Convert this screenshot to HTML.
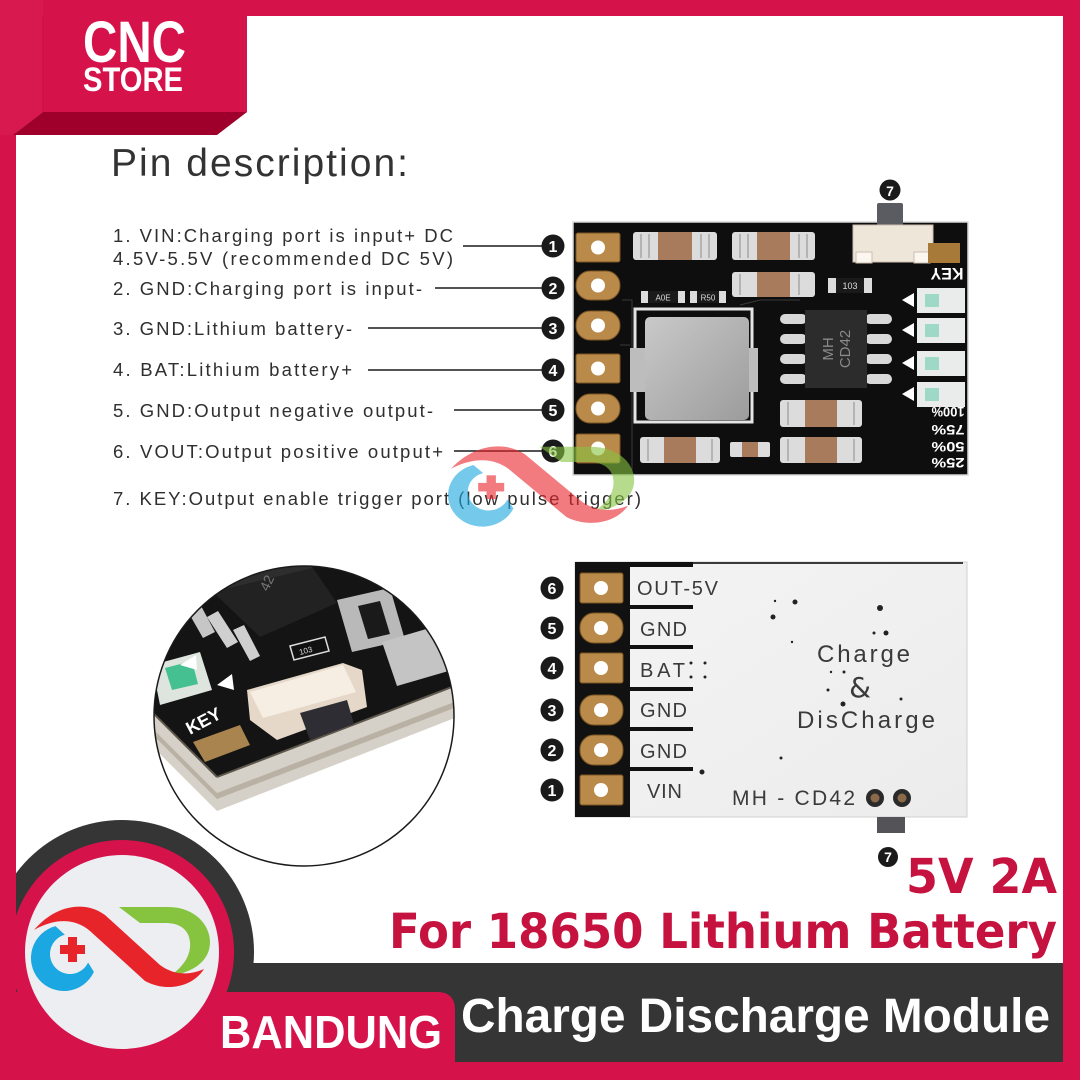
<!DOCTYPE html>
<html><head><meta charset="utf-8"><style>
html,body{margin:0;padding:0;background:#fff}
svg{display:block}
text{font-family:"Liberation Sans",Arial,sans-serif}
</style></head><body>
<svg width="1080" height="1080" viewBox="0 0 1080 1080" xmlns="http://www.w3.org/2000/svg">
<defs>
 <clipPath id="mag"><circle cx="304" cy="716" r="150"/></clipPath>
 <linearGradient id="ind" x1="0" y1="0" x2="1" y2="1"><stop offset="0" stop-color="#c9c9c9"/><stop offset="1" stop-color="#9c9c9c"/></linearGradient>
 <linearGradient id="brd" x1="0" y1="0" x2="1" y2="1"><stop offset="0" stop-color="#f4f4f4"/><stop offset="1" stop-color="#ececec"/></linearGradient>
 <g id="logo">
  <path d="M93.9 971.9 A33 33 0 1 1 55.5 926.1 L64.8 934.7 A20 20 0 1 0 88.1 962.5 Z" fill="#1ba7e1"/>
  <path d="M119 907 L168 907 C195 907 210 925 210 942 C210 960 195 972 170 976 C186 965 191 953 190 942 C189 930 180 923 166 923 L140 923 Z" fill="#86c440"/>
  <path d="M34 930 C55 905 85 900 105 915 L160 965 C175 976 190 975 204 969 C192 988 165 992 145 981 L90 931 C75 918 55 918 34 930Z" fill="#e8242b"/>
  <rect x="60" y="945" width="25" height="9" fill="#e8242b"/>
  <rect x="68" y="937" width="9" height="25" fill="#e8242b"/>
 </g>
</defs>
<rect width="1080" height="1080" fill="#fff"/>

<!-- bottom banner shapes -->
<circle cx="122" cy="952" r="132" fill="#353535"/>
<rect x="122" y="963" width="941" height="100" fill="#353535"/>
<circle cx="122" cy="952" r="112" fill="#d6124b"/>
<path d="M0 992 H437 Q455 992 455 1010 V1080 H0Z" fill="#d6124b"/>
<circle cx="122" cy="952" r="97" fill="#eceef2"/>
<use href="#logo"/>

<!-- frame -->
<rect x="0" y="0" width="1080" height="16" fill="#d6124b"/>
<rect x="0" y="0" width="16" height="1080" fill="#d6124b"/>
<rect x="1063" y="0" width="17" height="1080" fill="#d6124b"/>
<rect x="0" y="1062" width="1080" height="18" fill="#d6124b"/>
<polygon points="0,0 247,0 247,112 43,112 13,135 0,135" fill="#d6124b"/>
<polygon points="0,0 43,0 43,112 13,135 0,135" fill="#d81950"/>
<line x1="43" y1="16" x2="43" y2="112" stroke="#c80e44" stroke-width="1"/>
<polygon points="43,112 247,112 217,135 13,135" fill="#9f002b"/>
<text x="83" y="62" font-size="58" font-weight="bold" fill="#fff" textLength="103" lengthAdjust="spacingAndGlyphs">CNC</text>
<text x="83" y="91" font-size="34" font-weight="bold" fill="#fff" textLength="100" lengthAdjust="spacingAndGlyphs">STORE</text>

<!-- Pin description -->
<text x="111" y="176" font-size="39" fill="#333" textLength="297" lengthAdjust="spacing">Pin description:</text>
<g font-size="18.5" fill="#2f2f2f">
 <text x="113" y="242" textLength="340" lengthAdjust="spacing">1. VIN:Charging port is input+ DC</text>
 <text x="113" y="265" textLength="340" lengthAdjust="spacing">4.5V-5.5V (recommended DC 5V)</text>
 <text x="113" y="295" textLength="309" lengthAdjust="spacing">2. GND:Charging port is input-</text>
 <text x="113" y="335" textLength="239" lengthAdjust="spacing">3. GND:Lithium battery-</text>
 <text x="113" y="376" textLength="239" lengthAdjust="spacing">4. BAT:Lithium battery+</text>
 <text x="113" y="417" textLength="320" lengthAdjust="spacing">5. GND:Output negative output-</text>
 <text x="113" y="458" textLength="330" lengthAdjust="spacing">6. VOUT:Output positive output+</text>
 <text x="113" y="505" textLength="528" lengthAdjust="spacing">7. KEY:Output enable trigger port (low pulse trigger)</text>
</g>
<g stroke="#1a1a1a" stroke-width="1.6">
 <line x1="463" y1="246" x2="545" y2="246"/>
 <line x1="435" y1="288" x2="545" y2="288"/>
 <line x1="368" y1="328" x2="545" y2="328"/>
 <line x1="368" y1="370" x2="545" y2="370"/>
 <line x1="454" y1="410" x2="545" y2="410"/>
 <line x1="454" y1="451" x2="545" y2="451"/>
</g>
<g font-size="16" font-weight="bold" fill="#fff" text-anchor="middle">
 <circle cx="553" cy="246" r="11.5" fill="#1a1a1a"/><text x="553" y="252">1</text>
 <circle cx="553" cy="288" r="11.5" fill="#1a1a1a"/><text x="553" y="294">2</text>
 <circle cx="553" cy="328" r="11.5" fill="#1a1a1a"/><text x="553" y="334">3</text>
 <circle cx="553" cy="370" r="11.5" fill="#1a1a1a"/><text x="553" y="376">4</text>
 <circle cx="553" cy="410" r="11.5" fill="#1a1a1a"/><text x="553" y="416">5</text>
 <circle cx="553" cy="451" r="11.5" fill="#1a1a1a"/><text x="553" y="457">6</text>
 <circle cx="890" cy="190" r="10.5" fill="#1a1a1a"/><text x="890" y="196" font-size="14">7</text>
</g>

<!-- TOP PCB -->
<rect x="573" y="222" width="395" height="253" fill="#0e0e0e" stroke="#d8d8d8" stroke-width="1.5"/>
<g fill="#b98a4a" stroke="#7d5524" stroke-width="1">
 <rect x="576" y="233" width="44" height="29" rx="2"/>
 <rect x="576" y="271" width="44" height="29" rx="14"/>
 <rect x="576" y="311" width="44" height="29" rx="14"/>
 <rect x="576" y="354" width="44" height="29" rx="2"/>
 <rect x="576" y="394" width="44" height="29" rx="14"/>
 <rect x="576" y="434" width="44" height="29" rx="2"/>
</g>
<g fill="#fff">
 <circle cx="598" cy="247.5" r="7"/><circle cx="598" cy="285.5" r="7"/><circle cx="598" cy="325.5" r="7"/>
 <circle cx="598" cy="368.5" r="7"/><circle cx="598" cy="408.5" r="7"/><circle cx="598" cy="448.5" r="7"/>
</g>
<g stroke="#3a3a3a" stroke-width="1" fill="none">
 <path d="M622 300 H632 V470"/><path d="M740 305 L760 300 H800"/><path d="M620 345 H630"/>
</g>
<!-- capacitors -->
<g>
 <rect x="633" y="232" width="84" height="28" rx="3" fill="#dcdcdc"/><rect x="658" y="232" width="34" height="28" fill="#a87b5c"/>
 <rect x="732" y="232" width="83" height="28" rx="3" fill="#dcdcdc"/><rect x="757" y="232" width="33" height="28" fill="#a87b5c"/>
 <rect x="732" y="272" width="83" height="25" rx="3" fill="#dcdcdc"/><rect x="757" y="272" width="33" height="25" fill="#a87b5c"/>
 <rect x="640" y="437" width="80" height="26" rx="3" fill="#dcdcdc"/><rect x="664" y="437" width="32" height="26" fill="#a87b5c"/>
 <rect x="780" y="400" width="82" height="27" rx="3" fill="#dcdcdc"/><rect x="805" y="400" width="32" height="27" fill="#a87b5c"/>
 <rect x="780" y="437" width="82" height="26" rx="3" fill="#dcdcdc"/><rect x="805" y="437" width="32" height="26" fill="#a87b5c"/>
 <rect x="730" y="442" width="40" height="15" rx="2" fill="#dcdcdc"/><rect x="742" y="442" width="16" height="15" fill="#a87b5c"/>
</g>
<g stroke="#9a9a9a" stroke-width="1.2">
 <line x1="641" y1="234" x2="641" y2="258"/><line x1="649" y1="234" x2="649" y2="258"/><line x1="701" y1="234" x2="701" y2="258"/><line x1="709" y1="234" x2="709" y2="258"/>
 <line x1="740" y1="234" x2="740" y2="258"/><line x1="748" y1="234" x2="748" y2="258"/><line x1="799" y1="234" x2="799" y2="258"/><line x1="807" y1="234" x2="807" y2="258"/>
 <line x1="740" y1="274" x2="740" y2="295"/><line x1="799" y1="274" x2="799" y2="295"/>
 <line x1="648" y1="439" x2="648" y2="461"/><line x1="712" y1="439" x2="712" y2="461"/>
 <line x1="788" y1="402" x2="788" y2="425"/><line x1="854" y1="402" x2="854" y2="425"/>
 <line x1="788" y1="439" x2="788" y2="461"/><line x1="854" y1="439" x2="854" y2="461"/>
</g>
<!-- small resistors -->
<rect x="641" y="291" width="44" height="12" fill="#dcdcdc"/><rect x="648" y="291" width="30" height="12" fill="#1a1a1a"/>
<text x="663" y="300.5" font-size="8" fill="#ddd" text-anchor="middle">A0E</text>
<rect x="690" y="291" width="36" height="12" fill="#dcdcdc"/><rect x="697" y="291" width="22" height="12" fill="#1a1a1a"/>
<text x="708" y="300.5" font-size="8" fill="#ddd" text-anchor="middle">R50</text>
<rect x="828" y="278" width="44" height="15" fill="#dcdcdc"/><rect x="836" y="278" width="28" height="15" fill="#1a1a1a"/>
<text x="850" y="289" font-size="9" fill="#ddd" text-anchor="middle">103</text>
<!-- inductor -->
<rect x="635" y="309" width="117" height="113" fill="none" stroke="#e4e4e4" stroke-width="3"/>
<rect x="630" y="348" width="15" height="44" fill="#bdbdbd"/>
<rect x="748" y="348" width="10" height="44" fill="#bdbdbd"/>
<rect x="645" y="317" width="104" height="103" rx="5" fill="url(#ind)"/>
<!-- IC -->
<g fill="#d8d8d8">
 <rect x="780" y="314" width="27" height="10" rx="5"/><rect x="780" y="334" width="27" height="10" rx="5"/><rect x="780" y="354" width="27" height="10" rx="5"/><rect x="780" y="374" width="27" height="10" rx="5"/>
 <rect x="865" y="314" width="27" height="10" rx="5"/><rect x="865" y="334" width="27" height="10" rx="5"/><rect x="865" y="354" width="27" height="10" rx="5"/><rect x="865" y="374" width="27" height="10" rx="5"/>
</g>
<rect x="805" y="310" width="62" height="78" fill="#2c2c2c"/>
<g transform="translate(836,349) rotate(-90)" fill="#8a8a8a" font-size="15" text-anchor="middle">
 <text x="0" y="-3">MH</text><text x="0" y="14">CD42</text>
</g>
<!-- switch -->
<rect x="877" y="203" width="26" height="23" rx="2" fill="#5b5b62"/>
<rect x="853" y="225" width="80" height="37" fill="#efe6da" stroke="#cbbfb0"/>
<rect x="856" y="252" width="16" height="11" fill="#fbf6f0" stroke="#cbbfb0"/>
<rect x="914" y="252" width="16" height="11" fill="#fbf6f0" stroke="#cbbfb0"/>
<rect x="928" y="243" width="32" height="20" fill="#a87a3a"/>
<g transform="translate(947,274) rotate(180)"><text x="0" y="6" font-size="17" font-weight="bold" fill="#fff" text-anchor="middle" textLength="33" lengthAdjust="spacingAndGlyphs">KEY</text></g>
<!-- LEDs -->
<g fill="#e9ecea">
 <rect x="917" y="288" width="48" height="25"/><rect x="917" y="318" width="48" height="25"/><rect x="917" y="351" width="48" height="25"/><rect x="917" y="382" width="48" height="25"/>
</g>
<g fill="#9ed8c6">
 <rect x="925" y="294" width="14" height="13"/><rect x="925" y="324" width="14" height="13"/><rect x="925" y="357" width="14" height="13"/><rect x="925" y="388" width="14" height="13"/>
</g>
<g fill="#fff">
 <polygon points="902,300 914,293 914,307"/><polygon points="902,330 914,323 914,337"/><polygon points="902,363 914,356 914,370"/><polygon points="902,394 914,387 914,401"/>
</g>
<g font-size="14" font-weight="bold" fill="#fff" text-anchor="middle">
 <g transform="translate(948,412) rotate(180)"><text x="0" y="5" textLength="33" lengthAdjust="spacingAndGlyphs">100%</text></g>
 <g transform="translate(948,430) rotate(180)"><text x="0" y="5" textLength="33" lengthAdjust="spacingAndGlyphs">75%</text></g>
 <g transform="translate(948,447) rotate(180)"><text x="0" y="5" textLength="33" lengthAdjust="spacingAndGlyphs">50%</text></g>
 <g transform="translate(948,463) rotate(180)"><text x="0" y="5" textLength="33" lengthAdjust="spacingAndGlyphs">25%</text></g>
</g>

<!-- BOTTOM PCB -->
<rect x="575" y="562" width="392" height="255" fill="url(#brd)" stroke="#d0d0d0" stroke-width="1"/>
<rect x="580" y="562" width="383" height="2" fill="#3a3a3a"/>
<rect x="575" y="562" width="55" height="255" fill="#111"/>
<rect x="575" y="562" width="118" height="5" fill="#111"/>
<g fill="#111">
 <rect x="630" y="605" width="63" height="4"/><rect x="630" y="645" width="63" height="4"/><rect x="630" y="687" width="63" height="4"/>
 <rect x="630" y="727" width="63" height="4"/><rect x="630" y="767" width="63" height="4"/>
</g>
<g fill="#b98a4a" stroke="#7d5524" stroke-width="1">
 <rect x="580" y="573" width="43" height="30" rx="2"/>
 <rect x="580" y="613" width="43" height="30" rx="14"/>
 <rect x="580" y="653" width="43" height="30" rx="2"/>
 <rect x="580" y="695" width="43" height="30" rx="14"/>
 <rect x="580" y="735" width="43" height="30" rx="14"/>
 <rect x="580" y="775" width="43" height="30" rx="2"/>
</g>
<g fill="#fff">
 <circle cx="601" cy="588" r="7"/><circle cx="601" cy="628" r="7"/><circle cx="601" cy="668" r="7"/>
 <circle cx="601" cy="710" r="7"/><circle cx="601" cy="750" r="7"/><circle cx="601" cy="790" r="7"/>
</g>
<g font-size="20" fill="#3a3a3a">
 <text x="637" y="595" textLength="81" lengthAdjust="spacing">OUT-5V</text>
 <text x="640" y="636" textLength="47" lengthAdjust="spacing">GND</text>
 <text x="640" y="677" textLength="45" lengthAdjust="spacing">BAT</text>
 <text x="640" y="717" textLength="47" lengthAdjust="spacing">GND</text>
 <text x="640" y="758" textLength="47" lengthAdjust="spacing">GND</text>
 <text x="647" y="798" textLength="35" lengthAdjust="spacing">VIN</text>
 <text x="732" y="805" font-size="21" textLength="123" lengthAdjust="spacing">MH - CD42</text>
 <text x="817" y="662" font-size="24" textLength="93" lengthAdjust="spacing">Charge</text>
 <text x="860" y="697" font-size="28" text-anchor="middle" style="font-family:'DejaVu Sans',sans-serif">&amp;</text>
 <text x="797" y="728" font-size="24" textLength="138" lengthAdjust="spacing">DisCharge</text>
</g>
<g fill="#222">
 <circle cx="773" cy="617" r="2.5"/><circle cx="795" cy="602" r="2.5"/><circle cx="775" cy="601" r="1.2"/><circle cx="792" cy="642" r="1.2"/>
 <circle cx="880" cy="608" r="3"/><circle cx="874" cy="633" r="1.5"/><circle cx="886" cy="633" r="2.5"/>
 <circle cx="691" cy="663" r="1.5"/><circle cx="705" cy="663" r="1.5"/><circle cx="691" cy="677" r="1.5"/><circle cx="705" cy="677" r="1.5"/>
 <circle cx="831" cy="672" r="1.2"/><circle cx="844" cy="672" r="1.5"/><circle cx="828" cy="690" r="1.5"/><circle cx="843" cy="704" r="2.5"/><circle cx="901" cy="699" r="1.5"/>
 <circle cx="781" cy="758" r="1.5"/><circle cx="702" cy="772" r="2.5"/>
</g>
<circle cx="875" cy="798" r="9" fill="#2a2a2a"/><circle cx="875" cy="798" r="4.5" fill="#8a6a4a"/>
<circle cx="902" cy="798" r="9" fill="#2a2a2a"/><circle cx="902" cy="798" r="4.5" fill="#8a6a4a"/>
<rect x="877" y="817" width="28" height="16" fill="#545458"/>
<g font-size="16" font-weight="bold" fill="#fff" text-anchor="middle">
 <circle cx="552" cy="588" r="11.5" fill="#1a1a1a"/><text x="552" y="594">6</text>
 <circle cx="552" cy="628" r="11.5" fill="#1a1a1a"/><text x="552" y="634">5</text>
 <circle cx="552" cy="668" r="11.5" fill="#1a1a1a"/><text x="552" y="674">4</text>
 <circle cx="552" cy="710" r="11.5" fill="#1a1a1a"/><text x="552" y="716">3</text>
 <circle cx="552" cy="750" r="11.5" fill="#1a1a1a"/><text x="552" y="756">2</text>
 <circle cx="552" cy="790" r="11.5" fill="#1a1a1a"/><text x="552" y="796">1</text>
 <circle cx="888" cy="857" r="10" fill="#1a1a1a"/><text x="888" y="862" font-size="14">7</text>
</g>

<!-- Magnifier -->
<g clip-path="url(#mag)">
 <rect x="150" y="560" width="310" height="320" fill="#fff"/>
 <polygon points="140,560 470,560 470,680 217,777 140,700" fill="#141414"/>
 <polygon points="140,700 217,777 470,680 470,712 217,811 140,734" fill="#d6d1c8"/>
 <polygon points="140,716 217,793 470,696 470,702 217,799 140,722" fill="#b9b2a4"/>
 <line x1="140" y1="700" x2="217" y2="777" stroke="#5e574b" stroke-width="2"/>
 <line x1="217" y1="777" x2="470" y2="680" stroke="#5e574b" stroke-width="2"/>
 <polygon points="337,600 390,588 405,640 352,652" fill="#b9b9b9"/>
 <polygon points="382,642 440,625 452,670 397,686" fill="#c4c4c4"/>
 <polygon points="358,606 380,601 390,634 368,639" fill="#1a1a1a"/>
 <polygon points="187,610 200,604 215,632 203,638" fill="#c6c6c6"/>
 <polygon points="207,617 218,611 238,642 227,648" fill="#cfcfcf"/>
 <polygon points="233,630 244,625 260,656 250,661" fill="#cfcfcf"/>
 <polygon points="213,592 313,568 337,603 260,637" fill="#222"/>
 <polygon points="208,580 300,557 313,568 213,592" fill="#2e2e2e"/>
 <text x="268" y="592" font-size="14" fill="#777" transform="rotate(-65 268 592)">42</text>
 <polygon points="290,646 325,637 329,651 294,660" fill="#111" stroke="#ddd" stroke-width="1.5"/>
 <text x="300" y="655" font-size="8" fill="#ddd" transform="rotate(-15 300 655)">103</text>
 <polygon points="152,665 200,652 212,690 160,705" fill="#dde5de"/>
 <polygon points="165,668 192,661 198,684 172,690" fill="#45c090"/>
 <polygon points="180,665 196,655 197,670" fill="#fff"/>
 <polygon points="217,685 232,674 234,690" fill="#fff"/>
 <text x="190" y="735" font-size="18" font-weight="bold" fill="#fff" transform="rotate(-28 190 735)">KEY</text>
 <polygon points="193,742 240,725 250,745 205,762" fill="#a9844f"/>
 <polygon points="247,690 343,663 362,670 367,707 277,740 250,720" fill="#e6d8c8"/>
 <polygon points="250,692 343,665 356,692 263,718" fill="#f6ede3"/>
 <polygon points="300,713 347,700 354,724 310,740" fill="#2d2d33"/>
</g>
<circle cx="304" cy="716" r="150" fill="none" stroke="#1a1a1a" stroke-width="1.5"/>

<!-- watermark -->
<use href="#logo" transform="translate(415.8,-414.85) scale(1.04,0.95)" opacity="0.6"/>

<!-- Bottom texts -->
<g font-weight="bold" fill="#c5123f">
 <text x="906" y="893" font-size="48" textLength="151" lengthAdjust="spacingAndGlyphs" style="font-family:'DejaVu Sans','Liberation Sans',sans-serif">5V 2A</text>
 <text x="389" y="948" font-size="48" textLength="668" lengthAdjust="spacingAndGlyphs" style="font-family:'DejaVu Sans','Liberation Sans',sans-serif">For 18650 Lithium Battery</text>
</g>
<text x="220" y="1048" font-size="46" font-weight="bold" fill="#fff" textLength="222" lengthAdjust="spacingAndGlyphs">BANDUNG</text>
<text x="461" y="1032" font-size="48" font-weight="bold" fill="#fff" textLength="589" lengthAdjust="spacingAndGlyphs">Charge Discharge Module</text>
</svg>
</body></html>
